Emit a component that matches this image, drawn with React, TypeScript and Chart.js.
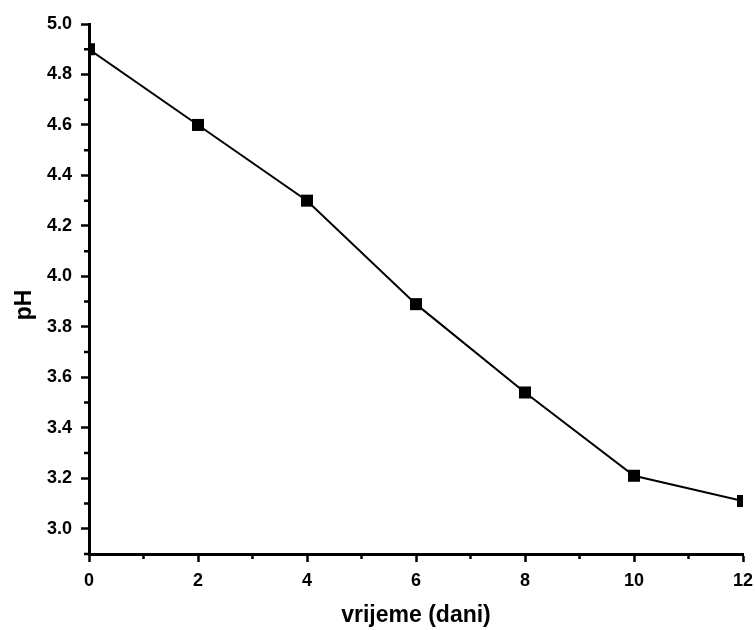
import React, { useEffect, useRef } from "react";
import { Chart, registerables } from "chart.js";

Chart.register(...registerables);

const days = [0, 2, 4, 6, 8, 10, 12];
const phValues = [4.9, 4.6, 4.3, 3.89, 3.54, 3.21, 3.11];
const xTicks = [0, 2, 4, 6, 8, 10, 12];
const xMinorTicks = [1, 3, 5, 7, 9, 11];
const yTicks = [3.0, 3.2, 3.4, 3.6, 3.8, 4.0, 4.2, 4.4, 4.6, 4.8, 5.0];
const yMinorTicks = [2.9, 3.1, 3.3, 3.5, 3.7, 3.9, 4.1, 4.3, 4.5, 4.7, 4.9];
const xTitle = "vrijeme (dani)";
const yTitle = "pH";

const FONT = "'Liberation Sans', Arial, sans-serif";

const decorPlugin = {
  id: "decor",
  afterDraw(chart: any) {
    const ctx = chart.ctx;
    const xs = chart.scales.x;
    const ys = chart.scales.y;
    const area = chart.chartArea;
    ctx.save();
    ctx.strokeStyle = "#000";
    ctx.lineWidth = 2.5;
    ctx.beginPath();
    for (const v of xMinorTicks) {
      const px = xs.getPixelForValue(v);
      ctx.moveTo(px, area.bottom);
      ctx.lineTo(px, area.bottom + 5);
    }
    for (const v of yMinorTicks) {
      const py = ys.getPixelForValue(v);
      ctx.moveTo(area.left, py);
      ctx.lineTo(area.left - 5, py);
    }
    ctx.stroke();

    ctx.fillStyle = "#000";
    ctx.font = `bold 23px ${FONT}`;
    ctx.textAlign = "center";
    ctx.textBaseline = "alphabetic";
    ctx.fillText(xTitle, (area.left + area.right) / 2, 622);

    ctx.translate(31, 305);
    ctx.rotate(-Math.PI / 2);
    ctx.fillText(yTitle, 0, 0);
    ctx.restore();
  },
};

export default function App() {
  const ref = useRef<HTMLCanvasElement>(null);
  useEffect(() => {
    document.body.style.margin = "0";
    const canvas = ref.current!;
    const chart = new Chart(canvas, {
      type: "line",
      data: {
        labels: days,
        datasets: [
          {
            data: days.map((d, i) => ({ x: d, y: phValues[i] })),
            borderColor: "#000",
            backgroundColor: "#000",
            borderWidth: 2,
            pointStyle: "rect",
            pointRadius: 8.5,
            pointHoverRadius: 8.5,
            pointBorderWidth: 0,
            tension: 0,
            clip: 0,
          },
        ],
      },
      options: {
        animation: false,
        responsive: false,
        events: [],
        layout: { padding: { left: 0, right: 12, top: 24, bottom: 0 } },
        plugins: {
          legend: { display: false },
          tooltip: { enabled: false },
        },
        scales: {
          x: {
            type: "linear",
            min: 0,
            max: 12,
            afterFit: (s: any) => {
              s.height = 76;
              s.paddingLeft = 0;
              s.paddingRight = 0;
            },
            afterBuildTicks: (s: any) => {
              s.ticks = xTicks.map((v) => ({ value: v }));
            },
            grid: {
              drawOnChartArea: false,
              drawTicks: true,
              tickLength: 8,
              tickWidth: 2.5,
              tickColor: "#000",
            },
            border: { display: true, color: "#000", width: 3 },
            ticks: {
              color: "#000",
              font: { family: FONT, size: 18, weight: "bold" },
              padding: 8,
              maxRotation: 0,
              callback: (v: any) => String(v),
            },
          },
          y: {
            type: "linear",
            min: 2.9,
            max: 5.0,
            afterFit: (s: any) => {
              s.width = 89;
              s.paddingTop = 0;
              s.paddingBottom = 0;
            },
            afterBuildTicks: (s: any) => {
              s.ticks = yTicks.map((v) => ({ value: v }));
            },
            grid: {
              drawOnChartArea: false,
              drawTicks: true,
              tickLength: 8,
              tickWidth: 2.5,
              tickColor: "#000",
            },
            border: { display: true, color: "#000", width: 3 },
            ticks: {
              color: "#000",
              font: { family: FONT, size: 18, weight: "bold" },
              padding: 9,
              callback: (v: any) => Number(v).toFixed(1),
            },
          },
        },
      },
      plugins: [decorPlugin],
    });
    return () => chart.destroy();
  }, []);
  return <canvas ref={ref} width={755} height={630} style={{ display: "block" }} />;
}
